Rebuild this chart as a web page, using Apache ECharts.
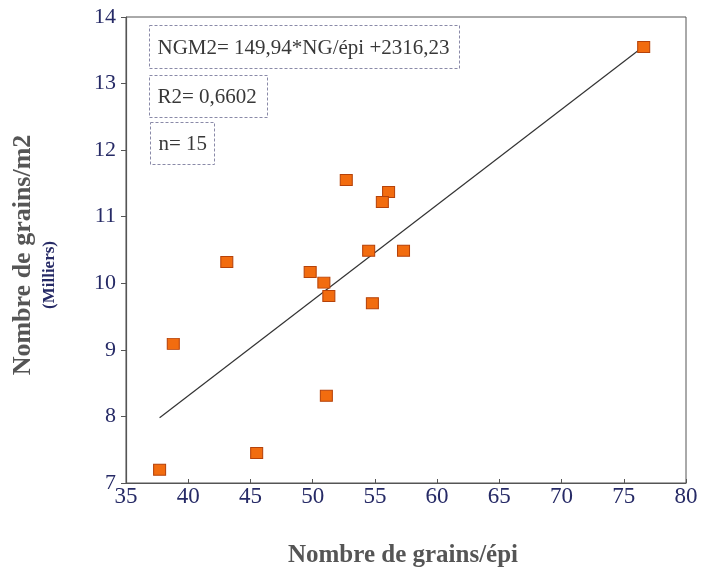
<!DOCTYPE html>
<html>
<head>
<meta charset="utf-8">
<script src="https://cdn.jsdelivr.net/npm/echarts@6/dist/echarts.min.js"></script>
<style>html,body{margin:0;padding:0;background:#fff;}#c{width:702px;height:576px;}</style>
</head>
<body>
<div id="c"></div>
<script>
// Data (thousands of grains/m2 vs grains/ear)
const grainsPerEar = [76.6, 52.7, 56.1, 55.6, 43.1, 54.5, 57.3, 49.8, 50.9, 51.3, 54.8, 38.8, 51.1, 45.5, 37.7];
const grainsPerM2  = [13.55, 11.55, 11.37, 11.22, 10.32, 10.49, 10.49, 10.17, 10.01, 9.81, 9.70, 9.09, 8.31, 7.45, 7.20];
const fitX = [37.7, 76.4];
const fitY = [7.98, 13.53];
const xTicks = [35, 40, 45, 50, 55, 60, 65, 70, 75, 80];
const yTicks = [7, 8, 9, 10, 11, 12, 13, 14];
const eqText = "NGM2= 149,94*NG/épi +2316,23";
const r2Text = "R2= 0,6602";
const nText = "n= 15";

const points = grainsPerEar.map((x, i) => [x, grainsPerM2[i]]);
const fitLine = fitX.map((x, i) => [x, fitY[i]]);

const serif = "'Liberation Serif', 'DejaVu Serif', serif";
const chart = echarts.init(document.getElementById('c'), null, {renderer: 'canvas'});

function box(left, top, w, h, text) {
  return {
    type: 'group', left: left, top: top,
    children: [
      {type: 'rect', shape: {x: 0, y: 0, width: w, height: h},
       style: {fill: 'rgba(255,255,255,0)', stroke: '#8a8aa8', lineWidth: 1, lineDash: [3, 2]}},
      {type: 'text', x: 8, y: h / 2 + 1,
       style: {text: text, font: "21px " + serif, fill: '#383838', verticalAlign: 'middle'}}
    ]
  };
}

chart.setOption({
  animation: false,
  backgroundColor: '#fff',
  grid: {left: 126, right: 16, top: 17, bottom: 93, show: true, borderColor: '#555', borderWidth: 1, backgroundColor: 'transparent'},
  xAxis: {
    type: 'value', min: xTicks[0], max: xTicks[xTicks.length - 1], interval: 5,
    axisLine: {lineStyle: {color: '#555', width: 1.2}},
    axisTick: {show: true, inside: true, length: 4, lineStyle: {color: '#555'}},
    splitLine: {show: false},
    axisLabel: {color: '#262a66', fontFamily: serif, fontSize: 23, margin: 2}
  },
  yAxis: {
    type: 'value', min: yTicks[0], max: yTicks[yTicks.length - 1], interval: 1,
    axisLine: {show: true, lineStyle: {color: '#555', width: 1.2}},
    axisTick: {show: true, length: 5, lineStyle: {color: '#555'}},
    splitLine: {show: false},
    axisLabel: {color: '#262a66', fontFamily: serif, fontSize: 22, margin: 10}
  },
  series: [
    {
      type: 'line', data: fitLine, symbol: 'none', silent: true,
      lineStyle: {color: '#333', width: 1.2}, z: 2
    },
    {
      type: 'scatter', data: points, symbol: 'rect', symbolSize: [12, 11],
      itemStyle: {color: '#f26c0f', borderColor: '#b5420a', borderWidth: 1, opacity: 1}, z: 3
    }
  ],
  graphic: [
    box(149, 25, 310, 43, eqText),
    box(149, 75, 118, 42, r2Text),
    box(150, 122, 64, 42, nText),
    {type: 'text', x: 403, y: 556, style: {text: 'Nombre de grains/épi', font: "bold 25px " + serif, fill: '#555', align: 'center', verticalAlign: 'middle'}},
    {type: 'text', x: 23, y: 255, rotation: Math.PI / 2, style: {text: 'Nombre de grains/m2', font: "bold 26px " + serif, fill: '#555', align: 'center', verticalAlign: 'middle'}},
    {type: 'text', x: 50, y: 275, rotation: Math.PI / 2, style: {text: '(Milliers)', font: "bold 17px " + serif, fill: '#262a66', align: 'center', verticalAlign: 'middle'}}
  ]
});
</script>
</body>
</html>
